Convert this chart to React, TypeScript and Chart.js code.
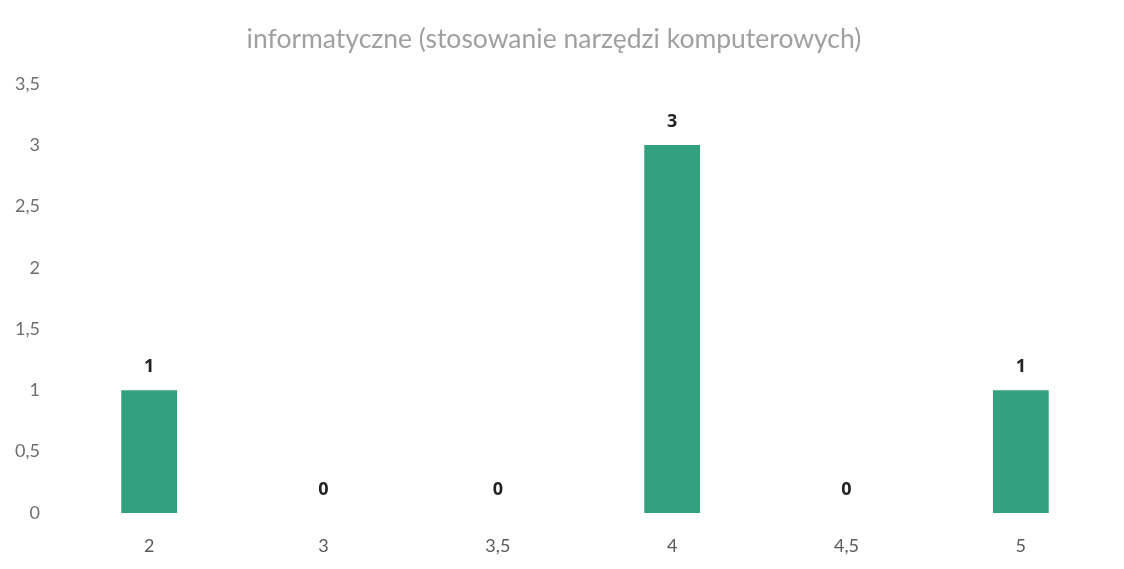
import React, { useEffect, useRef } from "react";
import { Chart, registerables } from "chart.js";

Chart.register(...registerables);

const TITLE = "informatyczne (stosowanie narzędzi komputerowych)";
const categories = ["2", "3", "3,5", "4", "4,5", "5"];
const counts = [1, 0, 0, 3, 0, 1];
const yMax = 3.5;
const yStep = 0.5;

const valueLabels = {
  id: "valueLabels",
  afterDatasetsDraw(chart: any) {
    const ctx = chart.ctx;
    const meta = chart.getDatasetMeta(0);
    ctx.save();
    ctx.font = "bold 18px 'Open Sans', sans-serif";
    ctx.fillStyle = "#222222";
    ctx.textAlign = "center";
    ctx.textBaseline = "middle";
    meta.data.forEach((bar: any, i: number) => {
      const v = chart.data.datasets[0].data[i];
      ctx.fillText(String(v), bar.x, bar.y - 23);
    });
    ctx.restore();
  },
};

export default function App() {
  const ref = useRef<HTMLCanvasElement | null>(null);
  useEffect(() => {
    if (!ref.current) return;
    const chart = new Chart(ref.current, {
      type: "bar",
      data: {
        labels: categories,
        datasets: [
          {
            data: counts,
            backgroundColor: "#33a07e",
            borderWidth: 0,
            categoryPercentage: 1,
            barPercentage: 0.32,
          },
        ],
      },
      options: {
        animation: false,
        responsive: false,
        maintainAspectRatio: false,
        layout: { padding: { left: 0, right: 16, top: 0, bottom: 0 } },
        plugins: {
          legend: { display: false },
          tooltip: { enabled: false },
          title: {
            display: true,
            text: TITLE,
            color: "#a0a0a0",
            font: { family: "Lato, 'Open Sans', sans-serif", size: 26.5, weight: "normal" },
            padding: { top: 24, bottom: 28 },
          },
        },
        scales: {
          x: {
            grid: { display: false, drawTicks: false },
            border: { display: false },
            ticks: {
              color: "#5a5a5a",
              font: { family: "Lato, 'Open Sans', sans-serif", size: 18 },
              padding: 22,
            },
            afterFit: (s: any) => {
              s.height = 56;
            },
          },
          y: {
            min: 0,
            max: yMax,
            grid: { display: false, drawTicks: false },
            border: { display: false },
            ticks: {
              stepSize: yStep,
              color: "#6e6e6e",
              font: { family: "Lato, 'Open Sans', sans-serif", size: 18 },
              padding: 22,
              callback: (v: any) => String(v).replace(".", ","),
            },
            afterFit: (s: any) => {
              s.width = 62;
            },
          },
        },
      },
      plugins: [valueLabels],
    });
    return () => chart.destroy();
  }, []);
  return (
    <div style={{ position: "absolute", left: 0, top: 0, width: 1124, height: 569, background: "#fff" }}>
      <canvas ref={ref} width={1124} height={569} style={{ display: "block" }} />
    </div>
  );
}
